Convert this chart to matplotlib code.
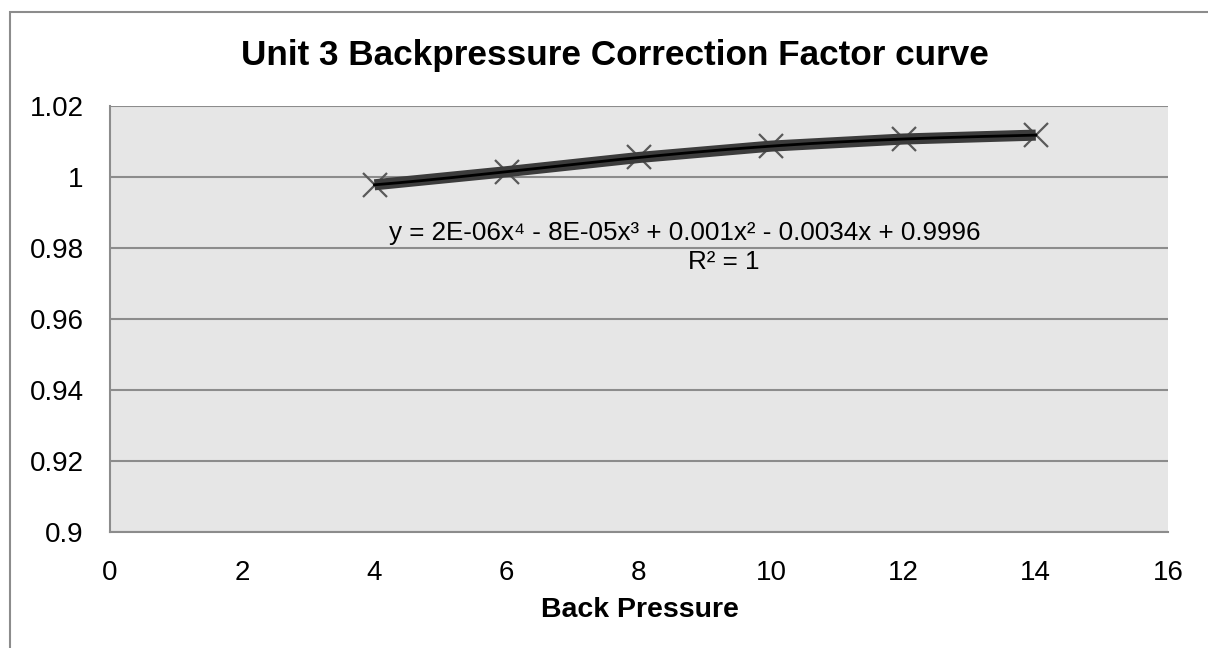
import numpy as np
import matplotlib
matplotlib.use('Agg')
import matplotlib.pyplot as plt
from matplotlib.patches import Rectangle

## data
back_pressure = [4, 6, 8, 10, 12, 14]
correction = [0.9978, 1.0015, 1.0055, 1.0087, 1.0107, 1.0118]
x_ticks = [0, 2, 4, 6, 8, 10, 12, 14, 16]
y_ticks = [0.9, 0.92, 0.94, 0.96, 0.98, 1.0, 1.02]
y_tick_labels = ['0.9', '0.92', '0.94', '0.96', '0.98', '1', '1.02']
equation = 'y = 2E-06x\u2074 - 8E-05x\u00b3 + 0.001x\u00b2 - 0.0034x + 0.9996'
r_squared = 'R\u00b2 = 1'

plt.rcParams['font.family'] = ['Liberation Sans', 'DejaVu Sans']

fig = plt.figure(figsize=(12.08, 6.48), dpi=100)
W, H = 1208, 648

# outer chart frame
fig.patches.append(Rectangle((10 / W, -0.1), 1.2, 1 - 12 / H + 0.1,
                             transform=fig.transFigure, fill=False,
                             edgecolor='#8c8c8c', linewidth=1.5))

ax = fig.add_axes([110 / W, 1 - 532 / H, (1168 - 110) / W, (532 - 106) / H])
ax.set_facecolor('#e6e6e6')

## series + trendline
ax.plot(back_pressure, correction, color='#3c3c3c', linewidth=8,
        solid_capstyle='butt', zorder=3)
ax.plot(back_pressure, correction, linestyle='none', marker='x',
        markersize=17, markeredgewidth=1.6, color='#595959', zorder=2)
coef = np.polyfit(back_pressure, correction, 4)
xs = np.linspace(back_pressure[0], back_pressure[-1], 200)
ax.plot(xs, np.polyval(coef, xs), color='black', linewidth=2, zorder=4)

ax.set_xlim(0, 16)
ax.set_ylim(0.9, 1.02)
ax.set_xticks(x_ticks)
ax.set_yticks(y_ticks)
ax.set_yticklabels(y_tick_labels)
ax.tick_params(length=0, labelsize=20, labelcolor='black')
ax.tick_params(axis='y', pad=19)
ax.tick_params(axis='x', pad=20)

## grids
ax.grid(True, axis='y', color='#8c8c8c', linewidth=1.5)
ax.set_axisbelow(True)
for side in ['top', 'right']:
    ax.spines[side].set_visible(False)
for side in ['left', 'bottom']:
    ax.spines[side].set_color('#8c8c8c')
    ax.spines[side].set_linewidth(1.5)

## labels
fig.text(615 / W, 1 - 55 / H, 'Unit 3 Backpressure Correction Factor curve',
         fontsize=25.3, fontweight='bold', ha='center', va='center')
fig.text(640 / W, 1 - 610 / H, 'Back Pressure', fontsize=20.5,
         fontweight='bold', ha='center', va='center')
fig.text(685 / W, 1 - 233 / H, equation, fontsize=18.7, ha='center', va='center')
fig.text(724 / W, 1 - 262 / H, r_squared, fontsize=18.7, ha='center', va='center')

fig.savefig('out.png', dpi=100)
